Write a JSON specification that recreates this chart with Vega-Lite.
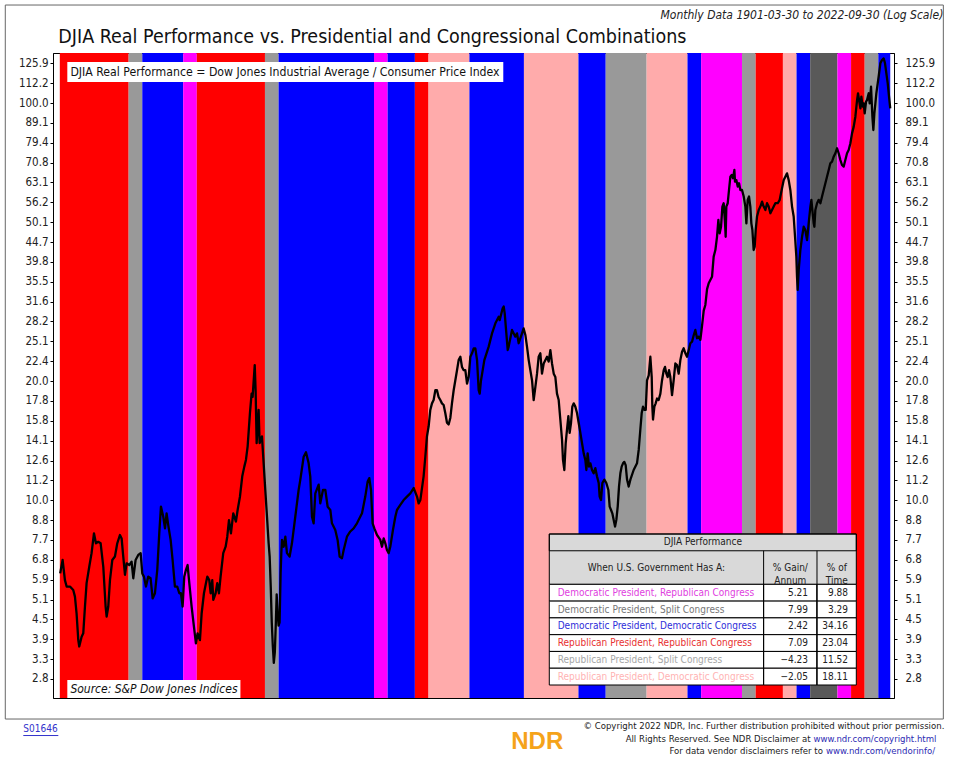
{
  "$schema": "https://vega.github.io/schema/vega-lite/v6.json",
  "width": 841,
  "height": 645,
  "autosize": {"type": "none"},
  "padding": {"left": 53, "top": 53, "right": 62, "bottom": 69},
  "background": "white",
  "config": {
    "view": {"stroke": "black", "strokeWidth": 1},
    "axis": {"labelFont": "DejaVu Sans Condensed", "labelFontSize": 11.5, "labelColor": "#222", "tickColor": "#000", "domainColor": "#000", "grid": false}
  },
  "datasets": {
    "periods": [
      {"start": 1900.9, "end": 1911, "government": "Republican President, Republican Congress"},
      {"start": 1911, "end": 1913, "government": "Republican President, Split Congress"},
      {"start": 1913, "end": 1919, "government": "Democratic President, Democratic Congress"},
      {"start": 1919, "end": 1921, "government": "Democratic President, Republican Congress"},
      {"start": 1921, "end": 1931, "government": "Republican President, Republican Congress"},
      {"start": 1931, "end": 1933, "government": "Republican President, Split Congress"},
      {"start": 1933, "end": 1947, "government": "Democratic President, Democratic Congress"},
      {"start": 1947, "end": 1949, "government": "Democratic President, Republican Congress"},
      {"start": 1949, "end": 1953, "government": "Democratic President, Democratic Congress"},
      {"start": 1953, "end": 1955, "government": "Republican President, Republican Congress"},
      {"start": 1955, "end": 1961, "government": "Republican President, Democratic Congress"},
      {"start": 1961, "end": 1969, "government": "Democratic President, Democratic Congress"},
      {"start": 1969, "end": 1977, "government": "Republican President, Democratic Congress"},
      {"start": 1977, "end": 1981, "government": "Democratic President, Democratic Congress"},
      {"start": 1981, "end": 1987, "government": "Republican President, Split Congress"},
      {"start": 1987, "end": 1993, "government": "Republican President, Democratic Congress"},
      {"start": 1993, "end": 1995, "government": "Democratic President, Democratic Congress"},
      {"start": 1995, "end": 2001, "government": "Democratic President, Republican Congress"},
      {"start": 2001, "end": 2003, "government": "Republican President, Split Congress"},
      {"start": 2003, "end": 2007, "government": "Republican President, Republican Congress"},
      {"start": 2007, "end": 2009, "government": "Republican President, Democratic Congress"},
      {"start": 2009, "end": 2011, "government": "Democratic President, Democratic Congress"},
      {"start": 2011, "end": 2015, "government": "Democratic President, Split Congress"},
      {"start": 2015, "end": 2017, "government": "Democratic President, Republican Congress"},
      {"start": 2017, "end": 2019, "government": "Republican President, Republican Congress"},
      {"start": 2019, "end": 2021, "government": "Republican President, Split Congress"},
      {"start": 2021, "end": 2022.75, "government": "Democratic President, Democratic Congress"}
    ],
    "table": [
      {"government": "Democratic President, Republican Congress", "gain": 5.21, "time": 9.88},
      {"government": "Democratic President, Split Congress", "gain": 7.99, "time": 3.29},
      {"government": "Democratic President, Democratic Congress", "gain": 2.42, "time": 34.16},
      {"government": "Republican President, Republican Congress", "gain": 7.09, "time": 23.04},
      {"government": "Republican President, Split Congress", "gain": -4.23, "time": 11.52},
      {"government": "Republican President, Democratic Congress", "gain": -2.05, "time": 18.11}
    ],
    "djia": [
      {"year": 1900.95, "value": 6.17}, {"year": 1901.31, "value": 6.79}, {"year": 1901.65, "value": 5.88}, {"year": 1901.9, "value": 5.61},
      {"year": 1902.39, "value": 5.61}, {"year": 1902.87, "value": 5.47}, {"year": 1903.12, "value": 5.21}, {"year": 1903.36, "value": 4.67},
      {"year": 1903.61, "value": 3.87}, {"year": 1903.75, "value": 3.67}, {"year": 1904.1, "value": 3.97}, {"year": 1904.34, "value": 4.07},
      {"year": 1904.59, "value": 4.88}, {"year": 1904.83, "value": 5.75}, {"year": 1905.22, "value": 6.47}, {"year": 1905.56, "value": 7.09},
      {"year": 1905.91, "value": 8.05}, {"year": 1906.2, "value": 7.54}, {"year": 1906.54, "value": 7.61}, {"year": 1906.89, "value": 7.54},
      {"year": 1907.28, "value": 6.47}, {"year": 1907.62, "value": 4.88}, {"year": 1907.77, "value": 4.58}, {"year": 1908.01, "value": 4.88},
      {"year": 1908.26, "value": 5.88}, {"year": 1908.6, "value": 6.79}, {"year": 1908.99, "value": 6.94}, {"year": 1909.33, "value": 7.54},
      {"year": 1909.72, "value": 7.96}, {"year": 1909.97, "value": 7.78}, {"year": 1910.21, "value": 6.94}, {"year": 1910.46, "value": 6.11},
      {"year": 1910.7, "value": 6.63}, {"year": 1911.09, "value": 6.55}, {"year": 1911.43, "value": 6.71}, {"year": 1911.68, "value": 5.96},
      {"year": 1912.02, "value": 6.79}, {"year": 1912.41, "value": 7.01}, {"year": 1912.76, "value": 7.09}, {"year": 1913.0, "value": 6.17},
      {"year": 1913.24, "value": 6.03}, {"year": 1913.54, "value": 5.61}, {"year": 1913.88, "value": 6.03}, {"year": 1914.22, "value": 5.96},
      {"year": 1914.52, "value": 5.14}, {"year": 1914.86, "value": 5.34}, {"year": 1915.2, "value": 6.33}, {"year": 1915.49, "value": 8.05},
      {"year": 1915.74, "value": 9.6}, {"year": 1916.08, "value": 8.99}, {"year": 1916.33, "value": 8.32}, {"year": 1916.57, "value": 9.19},
      {"year": 1916.81, "value": 8.51}, {"year": 1917.16, "value": 7.7}, {"year": 1917.45, "value": 6.79}, {"year": 1917.79, "value": 5.61},
      {"year": 1918.13, "value": 5.61}, {"year": 1918.43, "value": 5.34}, {"year": 1918.67, "value": 5.34}, {"year": 1918.92, "value": 4.88},
      {"year": 1919.16, "value": 6.03}, {"year": 1919.41, "value": 6.33}, {"year": 1919.65, "value": 6.55}, {"year": 1919.9, "value": 5.75},
      {"year": 1920.24, "value": 4.88}, {"year": 1920.58, "value": 4.27}, {"year": 1920.87, "value": 3.77}, {"year": 1921.12, "value": 4.07},
      {"year": 1921.46, "value": 3.87}, {"year": 1921.71, "value": 4.67}, {"year": 1922.05, "value": 5.34}, {"year": 1922.34, "value": 5.75},
      {"year": 1922.54, "value": 6.03}, {"year": 1922.83, "value": 5.88}, {"year": 1923.03, "value": 5.34}, {"year": 1923.27, "value": 5.88},
      {"year": 1923.42, "value": 5.09}, {"year": 1923.76, "value": 5.34}, {"year": 1924.0, "value": 5.75}, {"year": 1924.25, "value": 5.34},
      {"year": 1924.49, "value": 6.03}, {"year": 1924.88, "value": 7.09}, {"year": 1925.23, "value": 7.38}, {"year": 1925.47, "value": 7.87},
      {"year": 1925.72, "value": 8.8}, {"year": 1926.01, "value": 8.05}, {"year": 1926.35, "value": 9.19}, {"year": 1926.74, "value": 8.71},
      {"year": 1926.99, "value": 9.39}, {"year": 1927.33, "value": 10.2}, {"year": 1927.67, "value": 11.47}, {"year": 1927.97, "value": 12.15},
      {"year": 1928.21, "value": 12.64}, {"year": 1928.46, "value": 13.65}, {"year": 1928.8, "value": 16.56}, {"year": 1929.04, "value": 18.58},
      {"year": 1929.19, "value": 18.22}, {"year": 1929.5, "value": 21.9}, {"year": 1929.63, "value": 18.95}, {"year": 1929.78, "value": 13.9},
      {"year": 1930.07, "value": 16.87}, {"year": 1930.22, "value": 13.91}, {"year": 1930.56, "value": 14.45}, {"year": 1930.81, "value": 12.39},
      {"year": 1931.05, "value": 10.6}, {"year": 1931.3, "value": 8.99}, {"year": 1931.54, "value": 7.54}, {"year": 1931.69, "value": 6.94},
      {"year": 1931.85, "value": 5.6}, {"year": 1932.0, "value": 4.4}, {"year": 1932.15, "value": 3.7}, {"year": 1932.3, "value": 3.2},
      {"year": 1932.45, "value": 3.5}, {"year": 1932.6, "value": 4.4}, {"year": 1932.72, "value": 5.3}, {"year": 1932.85, "value": 4.7},
      {"year": 1933.0, "value": 4.3}, {"year": 1933.15, "value": 4.4}, {"year": 1933.3, "value": 6.2}, {"year": 1933.4, "value": 7.09},
      {"year": 1933.5, "value": 7.7}, {"year": 1933.74, "value": 7.38}, {"year": 1933.99, "value": 7.87}, {"year": 1934.23, "value": 7.09},
      {"year": 1934.62, "value": 6.94}, {"year": 1934.96, "value": 7.54}, {"year": 1935.45, "value": 8.99}, {"year": 1935.94, "value": 10.6},
      {"year": 1936.19, "value": 11.25}, {"year": 1936.68, "value": 12.87}, {"year": 1937.02, "value": 13.2}, {"year": 1937.41, "value": 12.39},
      {"year": 1937.65, "value": 11.47}, {"year": 1937.9, "value": 8.99}, {"year": 1938.14, "value": 8.61}, {"year": 1938.39, "value": 10.4},
      {"year": 1938.88, "value": 10.93}, {"year": 1939.12, "value": 9.8}, {"year": 1939.51, "value": 10.6}, {"year": 1939.86, "value": 10.6},
      {"year": 1940.2, "value": 9.59}, {"year": 1940.59, "value": 9.39}, {"year": 1940.83, "value": 8.61}, {"year": 1941.32, "value": 8.23},
      {"year": 1941.66, "value": 7.7}, {"year": 1941.96, "value": 6.94}, {"year": 1942.3, "value": 6.86}, {"year": 1942.55, "value": 7.23},
      {"year": 1943.03, "value": 7.87}, {"year": 1943.52, "value": 8.15}, {"year": 1944.01, "value": 8.32}, {"year": 1944.5, "value": 8.61},
      {"year": 1945.24, "value": 9.19}, {"year": 1945.72, "value": 10.21}, {"year": 1946.07, "value": 11.13}, {"year": 1946.31, "value": 11.35},
      {"year": 1946.56, "value": 10.6}, {"year": 1946.8, "value": 8.61}, {"year": 1947.05, "value": 8.32}, {"year": 1947.44, "value": 7.96},
      {"year": 1947.93, "value": 7.7}, {"year": 1948.17, "value": 7.38}, {"year": 1948.42, "value": 7.78}, {"year": 1948.66, "value": 7.54},
      {"year": 1948.9, "value": 7.23}, {"year": 1949.15, "value": 7.09}, {"year": 1949.39, "value": 7.38}, {"year": 1949.78, "value": 8.23},
      {"year": 1950.13, "value": 8.99}, {"year": 1950.37, "value": 9.39}, {"year": 1950.86, "value": 9.7}, {"year": 1951.35, "value": 10.01},
      {"year": 1951.84, "value": 10.21}, {"year": 1952.33, "value": 10.4}, {"year": 1952.82, "value": 10.72}, {"year": 1953.31, "value": 10.21},
      {"year": 1953.55, "value": 9.8}, {"year": 1953.8, "value": 10.01}, {"year": 1954.28, "value": 11.47}, {"year": 1954.53, "value": 12.87},
      {"year": 1954.77, "value": 14.45}, {"year": 1955.02, "value": 15.31}, {"year": 1955.26, "value": 16.87}, {"year": 1955.51, "value": 17.54},
      {"year": 1955.75, "value": 17.89}, {"year": 1956.0, "value": 18.95}, {"year": 1956.24, "value": 18.95}, {"year": 1956.48, "value": 18.22},
      {"year": 1956.73, "value": 17.89}, {"year": 1956.97, "value": 17.54}, {"year": 1957.22, "value": 17.37}, {"year": 1957.46, "value": 16.55},
      {"year": 1957.71, "value": 15.62}, {"year": 1957.95, "value": 15.47}, {"year": 1958.2, "value": 16.07}, {"year": 1958.44, "value": 17.54},
      {"year": 1958.69, "value": 18.95}, {"year": 1959.18, "value": 21.28}, {"year": 1959.42, "value": 22.54}, {"year": 1959.67, "value": 22.98},
      {"year": 1959.91, "value": 21.68}, {"year": 1960.16, "value": 21.28}, {"year": 1960.4, "value": 21.28}, {"year": 1960.65, "value": 19.7},
      {"year": 1960.89, "value": 20.46}, {"year": 1961.14, "value": 22.98}, {"year": 1961.38, "value": 23.44}, {"year": 1961.63, "value": 24.12},
      {"year": 1961.87, "value": 24.12}, {"year": 1962.12, "value": 22.54}, {"year": 1962.36, "value": 18.95}, {"year": 1962.51, "value": 18.58},
      {"year": 1962.7, "value": 20.07}, {"year": 1963.19, "value": 22.54}, {"year": 1963.83, "value": 24.35}, {"year": 1964.32, "value": 26.3},
      {"year": 1964.81, "value": 27.9}, {"year": 1965.3, "value": 28.97}, {"year": 1965.44, "value": 28.41}, {"year": 1965.88, "value": 30.41},
      {"year": 1966.03, "value": 30.73}, {"year": 1966.18, "value": 29.55}, {"year": 1966.42, "value": 26.3}, {"year": 1966.62, "value": 23.88},
      {"year": 1966.76, "value": 24.35}, {"year": 1967.25, "value": 26.83}, {"year": 1967.74, "value": 25.8}, {"year": 1967.99, "value": 26.3},
      {"year": 1968.23, "value": 24.83}, {"year": 1968.72, "value": 26.3}, {"year": 1968.96, "value": 27.07}, {"year": 1969.21, "value": 26.06},
      {"year": 1969.45, "value": 24.35}, {"year": 1969.7, "value": 22.54}, {"year": 1969.94, "value": 21.28}, {"year": 1970.19, "value": 20.07},
      {"year": 1970.43, "value": 17.89}, {"year": 1970.68, "value": 19.32}, {"year": 1970.92, "value": 20.86}, {"year": 1971.16, "value": 22.98},
      {"year": 1971.41, "value": 23.44}, {"year": 1971.65, "value": 20.86}, {"year": 1971.9, "value": 22.11}, {"year": 1972.39, "value": 22.98},
      {"year": 1972.63, "value": 22.34}, {"year": 1972.88, "value": 23.88}, {"year": 1973.12, "value": 22.11}, {"year": 1973.37, "value": 20.86},
      {"year": 1973.61, "value": 20.46}, {"year": 1973.85, "value": 18.58}, {"year": 1974.1, "value": 17.89}, {"year": 1974.34, "value": 15.92},
      {"year": 1974.59, "value": 14.17}, {"year": 1974.73, "value": 12.64}, {"year": 1974.93, "value": 11.91}, {"year": 1975.13, "value": 13.91},
      {"year": 1975.32, "value": 15.03}, {"year": 1975.52, "value": 16.24}, {"year": 1975.71, "value": 14.74}, {"year": 1975.91, "value": 15.62},
      {"year": 1976.1, "value": 17.2}, {"year": 1976.3, "value": 17.54}, {"year": 1976.54, "value": 17.2}, {"year": 1976.79, "value": 16.55},
      {"year": 1977.03, "value": 15.62}, {"year": 1977.28, "value": 14.74}, {"year": 1977.52, "value": 13.91}, {"year": 1977.77, "value": 13.12},
      {"year": 1978.01, "value": 12.64}, {"year": 1978.16, "value": 11.91}, {"year": 1978.35, "value": 13.12}, {"year": 1978.55, "value": 12.15},
      {"year": 1978.75, "value": 12.39}, {"year": 1978.99, "value": 11.91}, {"year": 1979.23, "value": 11.68}, {"year": 1979.48, "value": 12.04},
      {"year": 1979.72, "value": 11.47}, {"year": 1979.97, "value": 11.03}, {"year": 1980.11, "value": 10.21}, {"year": 1980.31, "value": 10.01},
      {"year": 1980.51, "value": 11.03}, {"year": 1980.8, "value": 11.25}, {"year": 1981.09, "value": 11.03}, {"year": 1981.39, "value": 10.6},
      {"year": 1981.58, "value": 9.6}, {"year": 1981.78, "value": 9.39}, {"year": 1981.97, "value": 9.19}, {"year": 1982.17, "value": 8.81},
      {"year": 1982.37, "value": 8.42}, {"year": 1982.56, "value": 8.81}, {"year": 1982.76, "value": 9.6}, {"year": 1982.95, "value": 10.81},
      {"year": 1983.15, "value": 11.68}, {"year": 1983.34, "value": 12.15}, {"year": 1983.54, "value": 12.39}, {"year": 1983.73, "value": 12.5},
      {"year": 1983.93, "value": 12.26}, {"year": 1984.13, "value": 11.25}, {"year": 1984.37, "value": 10.81}, {"year": 1984.62, "value": 11.25},
      {"year": 1985.1, "value": 11.91}, {"year": 1985.59, "value": 12.39}, {"year": 1985.84, "value": 13.38}, {"year": 1986.08, "value": 15.03},
      {"year": 1986.28, "value": 16.55}, {"year": 1986.47, "value": 17.2}, {"year": 1986.67, "value": 16.87}, {"year": 1986.87, "value": 16.87},
      {"year": 1987.06, "value": 20.07}, {"year": 1987.31, "value": 20.66}, {"year": 1987.55, "value": 22.98}, {"year": 1987.75, "value": 20.46},
      {"year": 1987.84, "value": 17.2}, {"year": 1987.94, "value": 15.92}, {"year": 1988.14, "value": 17.2}, {"year": 1988.33, "value": 17.54},
      {"year": 1988.53, "value": 18.05}, {"year": 1988.77, "value": 17.89}, {"year": 1989.02, "value": 18.58}, {"year": 1989.26, "value": 20.07},
      {"year": 1989.51, "value": 21.28}, {"year": 1989.7, "value": 21.68}, {"year": 1989.9, "value": 20.86}, {"year": 1990.09, "value": 20.46},
      {"year": 1990.29, "value": 21.28}, {"year": 1990.48, "value": 20.46}, {"year": 1990.73, "value": 18.41}, {"year": 1990.97, "value": 20.07},
      {"year": 1991.22, "value": 22.11}, {"year": 1991.46, "value": 21.9}, {"year": 1991.71, "value": 20.86}, {"year": 1991.95, "value": 22.54},
      {"year": 1992.2, "value": 23.66}, {"year": 1992.44, "value": 24.12}, {"year": 1992.69, "value": 23.44}, {"year": 1992.93, "value": 22.98},
      {"year": 1993.18, "value": 23.88}, {"year": 1993.42, "value": 24.83}, {"year": 1993.67, "value": 25.06}, {"year": 1993.91, "value": 26.0},
      {"year": 1994.15, "value": 26.83}, {"year": 1994.4, "value": 25.56}, {"year": 1994.64, "value": 25.8}, {"year": 1994.89, "value": 25.32},
      {"year": 1995.13, "value": 27.5}, {"year": 1995.38, "value": 30.0}, {"year": 1995.62, "value": 31.0}, {"year": 1995.87, "value": 34.0},
      {"year": 1996.11, "value": 35.2}, {"year": 1996.35, "value": 35.85}, {"year": 1996.6, "value": 36.56}, {"year": 1996.84, "value": 41.05},
      {"year": 1997.09, "value": 42.66}, {"year": 1997.33, "value": 46.07}, {"year": 1997.53, "value": 50.75}, {"year": 1997.72, "value": 46.99},
      {"year": 1997.92, "value": 48.81}, {"year": 1998.12, "value": 54.83}, {"year": 1998.31, "value": 55.91}, {"year": 1998.51, "value": 49.77},
      {"year": 1998.6, "value": 46.07}, {"year": 1998.7, "value": 54.83}, {"year": 1998.9, "value": 55.91}, {"year": 1999.09, "value": 60.39},
      {"year": 1999.29, "value": 65.24}, {"year": 1999.49, "value": 65.92}, {"year": 1999.68, "value": 64.65}, {"year": 1999.88, "value": 67.85},
      {"year": 1999.97, "value": 63.39}, {"year": 2000.17, "value": 63.97}, {"year": 2000.37, "value": 61.59}, {"year": 2000.56, "value": 62.81},
      {"year": 2000.76, "value": 60.39}, {"year": 2001.0, "value": 60.39}, {"year": 2001.25, "value": 58.12}, {"year": 2001.49, "value": 54.83},
      {"year": 2001.64, "value": 49.77}, {"year": 2001.83, "value": 57.02}, {"year": 2002.03, "value": 58.12}, {"year": 2002.22, "value": 54.83},
      {"year": 2002.37, "value": 49.77}, {"year": 2002.52, "value": 47.91}, {"year": 2002.71, "value": 42.66}, {"year": 2002.86, "value": 43.5},
      {"year": 2003.01, "value": 47.91}, {"year": 2003.2, "value": 51.76}, {"year": 2003.45, "value": 53.76}, {"year": 2003.69, "value": 54.83},
      {"year": 2003.94, "value": 56.43}, {"year": 2004.18, "value": 54.83}, {"year": 2004.43, "value": 53.76}, {"year": 2004.67, "value": 55.91},
      {"year": 2004.91, "value": 54.83}, {"year": 2005.16, "value": 52.76}, {"year": 2005.4, "value": 53.76}, {"year": 2005.65, "value": 54.83},
      {"year": 2005.89, "value": 55.91}, {"year": 2006.24, "value": 55.91}, {"year": 2006.53, "value": 57.02}, {"year": 2006.72, "value": 59.23},
      {"year": 2006.92, "value": 61.59}, {"year": 2007.12, "value": 63.97}, {"year": 2007.36, "value": 65.24}, {"year": 2007.6, "value": 66.53},
      {"year": 2007.85, "value": 63.97}, {"year": 2008.09, "value": 60.39}, {"year": 2008.34, "value": 54.83}, {"year": 2008.58, "value": 51.76},
      {"year": 2008.78, "value": 46.07}, {"year": 2008.97, "value": 41.05}, {"year": 2009.07, "value": 36.56}, {"year": 2009.17, "value": 33.85},
      {"year": 2009.32, "value": 37.98}, {"year": 2009.56, "value": 42.66}, {"year": 2009.81, "value": 46.07}, {"year": 2010.05, "value": 48.81},
      {"year": 2010.29, "value": 47.91}, {"year": 2010.54, "value": 45.19}, {"year": 2010.78, "value": 49.77}, {"year": 2011.03, "value": 54.83},
      {"year": 2011.18, "value": 57.02}, {"year": 2011.32, "value": 53.76}, {"year": 2011.52, "value": 49.77}, {"year": 2011.62, "value": 48.81},
      {"year": 2011.76, "value": 53.76}, {"year": 2012.01, "value": 55.91}, {"year": 2012.25, "value": 57.02}, {"year": 2012.5, "value": 55.91},
      {"year": 2012.74, "value": 58.12}, {"year": 2012.98, "value": 60.39}, {"year": 2013.23, "value": 62.81}, {"year": 2013.47, "value": 65.24},
      {"year": 2013.72, "value": 67.85}, {"year": 2013.96, "value": 70.51}, {"year": 2014.21, "value": 71.21}, {"year": 2014.45, "value": 73.28},
      {"year": 2014.7, "value": 74.73}, {"year": 2014.94, "value": 76.91}, {"year": 2015.18, "value": 74.73}, {"year": 2015.43, "value": 71.87},
      {"year": 2015.67, "value": 69.82}, {"year": 2015.92, "value": 69.18}, {"year": 2016.16, "value": 71.87}, {"year": 2016.41, "value": 74.73},
      {"year": 2016.65, "value": 76.17}, {"year": 2016.9, "value": 79.15}, {"year": 2017.14, "value": 83.85}, {"year": 2017.39, "value": 87.2},
      {"year": 2017.63, "value": 92.36}, {"year": 2017.88, "value": 101.7}, {"year": 2018.02, "value": 105.8}, {"year": 2018.17, "value": 101.7},
      {"year": 2018.37, "value": 96.94}, {"year": 2018.51, "value": 103.8}, {"year": 2018.71, "value": 97.95}, {"year": 2018.85, "value": 99.77},
      {"year": 2019.0, "value": 94.19}, {"year": 2019.2, "value": 100.8}, {"year": 2019.34, "value": 101.7}, {"year": 2019.59, "value": 105.8},
      {"year": 2019.73, "value": 99.77}, {"year": 2019.93, "value": 109.9}, {"year": 2020.13, "value": 92.36}, {"year": 2020.27, "value": 85.5},
      {"year": 2020.42, "value": 94.19}, {"year": 2020.57, "value": 99.77}, {"year": 2020.71, "value": 105.8}, {"year": 2020.91, "value": 112.1},
      {"year": 2021.05, "value": 116.6}, {"year": 2021.3, "value": 125.9}, {"year": 2021.54, "value": 128.4}, {"year": 2021.79, "value": 129.6},
      {"year": 2021.98, "value": 125.9}, {"year": 2022.18, "value": 118.8}, {"year": 2022.38, "value": 112.1}, {"year": 2022.57, "value": 103.8},
      {"year": 2022.75, "value": 96.94}
    ]
  },
  "layer": [
    {
      "layer": [
        {
          "data": {"name": "periods"},
          "mark": {"type": "rect"},
          "encoding": {
            "x": {"field": "start", "type": "quantitative", "axis": null},
            "x2": {"field": "end"},
            "fill": {
              "field": "government", "type": "nominal", "legend": null,
              "scale": {
                "domain": ["Democratic President, Republican Congress", "Democratic President, Split Congress", "Democratic President, Democratic Congress", "Republican President, Republican Congress", "Republican President, Split Congress", "Republican President, Democratic Congress"],
                "range": ["#ff00ff", "#595959", "#0000ff", "#ff0000", "#999999", "#ffabab"]
              }
            }
          }
        },
        {
          "data": {"values": [{}]},
          "mark": {"type": "rect", "fill": "white"},
          "encoding": {
            "x": {"datum": 1902.0, "type": "quantitative", "axis": null},
            "x2": {"datum": 1965.97},
            "y": {
              "datum": 126.9, "type": "quantitative",
              "axis": {"orient": "right", "title": null, "values": [2.8, 3.3, 3.9, 4.5, 5.1, 5.9, 6.8, 7.7, 8.8, 10, 11.2, 12.6, 14.1, 15.8, 17.8, 20, 22.4, 25.1, 28.2, 31.6, 35.5, 39.8, 44.7, 50.1, 56.2, 63.1, 70.8, 79.4, 89.1, 100, 112.2, 125.9], "format": ".1f", "tickSize": 3, "labelPadding": 8, "labelOverlap": false}
            },
            "y2": {"datum": 112.94}
          }
        },
        {
          "data": {"values": [{}]},
          "mark": {"type": "text", "align": "left", "baseline": "middle", "font": "DejaVu Sans Condensed", "fontSize": 12.2, "fill": "#111"},
          "encoding": {
            "x": {"datum": 1902.45, "type": "quantitative", "axis": null},
            "y": {"datum": 119.7, "type": "quantitative", "axis": null},
            "text": {"value": "DJIA Real Performance = Dow Jones Industrial Average / Consumer Price Index"}
          }
        },
        {
          "data": {"values": [{}]},
          "mark": {"type": "rect", "fill": "white"},
          "encoding": {
            "x": {"datum": 1902.0, "type": "quantitative", "axis": null},
            "x2": {"datum": 1927.4},
            "y": {"datum": 2.776, "type": "quantitative", "axis": null},
            "y2": {"datum": 2.393}
          }
        },
        {
          "data": {"values": [{}]},
          "mark": {"type": "text", "align": "left", "baseline": "middle", "font": "DejaVu Sans Condensed", "fontSize": 12, "fontStyle": "italic", "fill": "#111"},
          "encoding": {
            "x": {"datum": 1902.45, "type": "quantitative", "axis": null},
            "y": {"datum": 2.578, "type": "quantitative", "axis": null},
            "text": {"value": "Source:   S&P Dow Jones Indices"}
          }
        },
        {
          "data": {"name": "djia"},
          "mark": {"type": "line", "color": "black", "strokeWidth": 2.3, "strokeJoin": "round"},
          "encoding": {
            "x": {
              "field": "year", "type": "quantitative",
              "scale": {"domain": [1899.9, 2023.3], "nice": false, "zero": false},
              "axis": {"title": null, "orient": "bottom", "values": [1900, 1901, 1902, 1903, 1904, 1905, 1906, 1907, 1908, 1909, 1910, 1911, 1912, 1913, 1914, 1915, 1916, 1917, 1918, 1919, 1920, 1921, 1922, 1923, 1924, 1925, 1926, 1927, 1928, 1929, 1930, 1931, 1932, 1933, 1934, 1935, 1936, 1937, 1938, 1939, 1940, 1941, 1942, 1943, 1944, 1945, 1946, 1947, 1948, 1949, 1950, 1951, 1952, 1953, 1954, 1955, 1956, 1957, 1958, 1959, 1960, 1961, 1962, 1963, 1964, 1965, 1966, 1967, 1968, 1969, 1970, 1971, 1972, 1973, 1974, 1975, 1976, 1977, 1978, 1979, 1980, 1981, 1982, 1983, 1984, 1985, 1986, 1987, 1988, 1989, 1990, 1991, 1992, 1993, 1994, 1995, 1996, 1997, 1998, 1999, 2000, 2001, 2002, 2003, 2004, 2005, 2006, 2007, 2008, 2009, 2010, 2011, 2012, 2013, 2014, 2015, 2016, 2017, 2018, 2019, 2020, 2021, 2022, 2023], "format": "d", "labelExpr": "datum.value % 10 === 0 ? datum.label : ''", "tickSize": 3, "labelPadding": 4, "labelOverlap": false, "labelFlush": false}
            },
            "y": {
              "field": "value", "type": "quantitative",
              "scale": {
                "type": "log", "nice": false, "zero": false,
                "domain": [2.393, 2.8, 3.3, 3.9, 4.5, 5.1, 5.9, 6.8, 7.7, 8.8, 10, 11.2, 12.6, 14.1, 15.8, 17.8, 20, 22.4, 25.1, 28.2, 31.6, 35.5, 39.8, 44.7, 50.1, 56.2, 63.1, 70.8, 79.4, 89.1, 100, 112.2, 125.9, 133.9],
                "range": [645, 625.96, 606.1, 586.24, 566.38, 546.52, 526.66, 506.8, 486.94, 467.08, 447.22, 427.36, 407.5, 387.64, 367.78, 347.92, 328.06, 308.2, 288.34, 268.48, 248.62, 228.76, 208.9, 189.04, 169.18, 149.32, 129.46, 109.6, 89.74, 69.88, 50.02, 30.16, 10.3, 0]
              },
              "axis": {"orient": "left", "title": null, "values": [2.8, 3.3, 3.9, 4.5, 5.1, 5.9, 6.8, 7.7, 8.8, 10, 11.2, 12.6, 14.1, 15.8, 17.8, 20, 22.4, 25.1, 28.2, 31.6, 35.5, 39.8, 44.7, 50.1, 56.2, 63.1, 70.8, 79.4, 89.1, 100, 112.2, 125.9], "format": ".1f", "tickSize": 3, "labelPadding": 2, "labelOverlap": false}
            }
          }
        },
        {
          "data": {"values": [{}]},
          "mark": {"type": "text", "align": "left", "baseline": "alphabetic", "font": "DejaVu Sans Condensed", "fontSize": 19.5, "fill": "#111"},
          "encoding": {
            "x": {"datum": 1900.68, "type": "quantitative", "axis": null},
            "y": {"datum": 142.2, "type": "quantitative", "axis": null},
            "text": {"value": "DJIA Real Performance vs. Presidential and Congressional Combinations"}
          }
        },
        {
          "data": {"values": [{}]},
          "mark": {"type": "text", "align": "right", "baseline": "middle", "font": "DejaVu Sans Condensed", "fontSize": 12, "fontStyle": "italic", "fill": "#222"},
          "encoding": {
            "x": {"datum": 2030.54, "type": "quantitative", "axis": null},
            "y": {"datum": 168.1, "type": "quantitative", "axis": null},
            "text": {"value": "Monthly Data 1901-03-30 to 2022-09-30 (Log Scale)"}
          }
        },
        {
          "data": {"values": [{}]},
          "mark": {"type": "rect", "fillOpacity": 0, "stroke": "#666", "strokeWidth": 1},
          "encoding": {
            "x": {"datum": 1892.9, "type": "quantitative", "axis": null},
            "x2": {"datum": 2030.54},
            "y": {"datum": 178.4, "type": "quantitative", "axis": null},
            "y2": {"datum": 2.012}
          }
        },
        {
          "data": {"values": [{}]},
          "mark": {"type": "text", "align": "right", "baseline": "middle", "font": "DejaVu Sans Condensed", "fontSize": 9.5, "fill": "#222"},
          "encoding": {
            "x": {"datum": 2030.69, "type": "quantitative", "axis": null},
            "y": {"datum": 1.899, "type": "quantitative", "axis": null},
            "text": {"value": "© Copyright 2022 NDR, Inc. Further distribution prohibited without prior permission."}
          }
        },
        {
          "data": {"values": [{}]},
          "mark": {"type": "text", "align": "right", "baseline": "middle", "font": "DejaVu Sans Condensed", "fontSize": 9.5, "fill": "#222"},
          "encoding": {
            "x": {"datum": 2011.06, "type": "quantitative", "axis": null},
            "y": {"datum": 1.713, "type": "quantitative", "axis": null},
            "text": {"value": "All Rights Reserved. See NDR Disclaimer at"}
          }
        },
        {
          "data": {"values": [{}]},
          "mark": {"type": "text", "align": "left", "baseline": "middle", "font": "DejaVu Sans Condensed", "fontSize": 9.5, "fill": "#2b2bb3"},
          "encoding": {
            "x": {"datum": 2011.5, "type": "quantitative", "axis": null},
            "y": {"datum": 1.713, "type": "quantitative", "axis": null},
            "text": {"value": "www.ndr.com/copyright.html"}
          }
        },
        {
          "data": {"values": [{}]},
          "mark": {"type": "text", "align": "right", "baseline": "middle", "font": "DejaVu Sans Condensed", "fontSize": 9.5, "fill": "#222"},
          "encoding": {
            "x": {"datum": 2012.87, "type": "quantitative", "axis": null},
            "y": {"datum": 1.545, "type": "quantitative", "axis": null},
            "text": {"value": "For data vendor disclaimers refer to"}
          }
        },
        {
          "data": {"values": [{}]},
          "mark": {"type": "text", "align": "left", "baseline": "middle", "font": "DejaVu Sans Condensed", "fontSize": 9.5, "fill": "#2b2bb3"},
          "encoding": {
            "x": {"datum": 2013.34, "type": "quantitative", "axis": null},
            "y": {"datum": 1.545, "type": "quantitative", "axis": null},
            "text": {"value": "www.ndr.com/vendorinfo/"}
          }
        },
        {
          "data": {"values": [{}]},
          "mark": {"type": "text", "align": "left", "baseline": "middle", "font": "DejaVu Sans Condensed", "fontSize": 10, "fill": "#3333cc"},
          "encoding": {
            "x": {"datum": 1895.54, "type": "quantitative", "axis": null},
            "y": {"datum": 1.853, "type": "quantitative", "axis": null},
            "text": {"value": "S01646"}
          }
        },
        {
          "data": {"values": [{}]},
          "mark": {"type": "rule", "stroke": "#3333cc", "strokeWidth": 1},
          "encoding": {
            "x": {"datum": 1895.54, "type": "quantitative", "axis": null},
            "x2": {"datum": 1900.68},
            "y": {"datum": 1.756, "type": "quantitative", "axis": null}
          }
        },
        {
          "data": {"values": [{}]},
          "mark": {"type": "text", "align": "center", "baseline": "middle", "font": "Liberation Sans", "fontSize": 24, "fontWeight": "bold", "fill": "#f5a31a"},
          "encoding": {
            "x": {"datum": 1970.96, "type": "quantitative", "axis": null},
            "y": {"datum": 1.664, "type": "quantitative", "axis": null},
            "text": {"value": "NDR"}
          }
        }
      ],
      "resolve": {"axis": {"y": "independent"}}
    },
    {
      "layer": [
        {
          "data": {"values": [{}]},
          "mark": {"type": "rect", "fill": "#d9d9d9", "stroke": "black", "strokeWidth": 1},
          "encoding": {
            "x": {"datum": 1972.72, "type": "quantitative", "axis": null},
            "x2": {"datum": 2017.77},
            "y": {
              "datum": "h1", "bandPosition": 0, "type": "nominal", "axis": null,
              "scale": {
                "type": "band", "paddingInner": 0, "paddingOuter": 0, "range": [481, 632],
                "domain": ["h1", "h2a", "h2b", "Democratic President, Republican Congress", "Democratic President, Split Congress", "Democratic President, Democratic Congress", "Republican President, Republican Congress", "Republican President, Split Congress", "Republican President, Democratic Congress"]
              }
            },
            "y2": {"datum": "h2b", "bandPosition": 1}
          }
        },
        {
          "data": {"values": [{}]},
          "mark": {"type": "rect", "fillOpacity": 0, "stroke": "black", "strokeWidth": 1},
          "encoding": {
            "x": {"datum": 1972.72, "type": "quantitative", "axis": null},
            "x2": {"datum": 2017.77},
            "y": {"datum": "h1", "type": "nominal", "axis": null}
          }
        },
        {
          "data": {"name": "table"},
          "mark": {"type": "rect", "fill": "white", "stroke": "black", "strokeWidth": 1},
          "encoding": {
            "x": {"datum": 1972.72, "type": "quantitative", "axis": null},
            "x2": {"datum": 2004.17},
            "y": {"field": "government", "type": "nominal", "axis": null}
          }
        },
        {
          "data": {"name": "table"},
          "mark": {"type": "rect", "fill": "white", "stroke": "black", "strokeWidth": 1},
          "encoding": {
            "x": {"datum": 2004.17, "type": "quantitative", "axis": null},
            "x2": {"datum": 2012.0},
            "y": {"field": "government", "type": "nominal", "axis": null}
          }
        },
        {
          "data": {"name": "table"},
          "mark": {"type": "rect", "fill": "white", "stroke": "black", "strokeWidth": 1},
          "encoding": {
            "x": {"datum": 2012.0, "type": "quantitative", "axis": null},
            "x2": {"datum": 2017.77},
            "y": {"field": "government", "type": "nominal", "axis": null}
          }
        },
        {
          "data": {"values": [{}]},
          "mark": {"type": "rule", "stroke": "black", "strokeWidth": 1},
          "encoding": {
            "x": {"datum": 2004.17, "type": "quantitative", "axis": null},
            "y": {"datum": "h2a", "bandPosition": 0, "type": "nominal", "axis": null},
            "y2": {"datum": "Republican President, Democratic Congress", "bandPosition": 1}
          }
        },
        {
          "data": {"values": [{}]},
          "mark": {"type": "rule", "stroke": "black", "strokeWidth": 1},
          "encoding": {
            "x": {"datum": 2012.0, "type": "quantitative", "axis": null},
            "y": {"datum": "h2a", "bandPosition": 0, "type": "nominal", "axis": null},
            "y2": {"datum": "Republican President, Democratic Congress", "bandPosition": 1}
          }
        },
        {
          "data": {"values": [{}]},
          "mark": {"type": "text", "align": "center", "baseline": "middle", "font": "DejaVu Sans Condensed", "fontSize": 10, "fill": "#222"},
          "encoding": {
            "x": {"datum": 1995.25, "type": "quantitative", "axis": null},
            "y": {"datum": "h1", "type": "nominal", "axis": null},
            "text": {"value": "DJIA Performance"}
          }
        },
        {
          "data": {"values": [{}]},
          "mark": {"type": "text", "align": "center", "baseline": "middle", "font": "DejaVu Sans Condensed", "fontSize": 10, "fill": "#222"},
          "encoding": {
            "x": {"datum": 1988.43, "type": "quantitative", "axis": null},
            "y": {"datum": "h2b", "bandPosition": 0, "type": "nominal", "axis": null},
            "text": {"value": "When U.S. Government Has A:"}
          }
        },
        {
          "data": {"values": [{}]},
          "mark": {"type": "text", "align": "center", "baseline": "middle", "font": "DejaVu Sans Condensed", "fontSize": 10, "fill": "#222", "lineHeight": 13},
          "encoding": {
            "x": {"datum": 2008.09, "type": "quantitative", "axis": null},
            "y": {"datum": "h2b", "bandPosition": 0, "type": "nominal", "axis": null},
            "text": {"value": ["% Gain/", "Annum"]}
          }
        },
        {
          "data": {"values": [{}]},
          "mark": {"type": "text", "align": "center", "baseline": "middle", "font": "DejaVu Sans Condensed", "fontSize": 10, "fill": "#222", "lineHeight": 13},
          "encoding": {
            "x": {"datum": 2014.91, "type": "quantitative", "axis": null},
            "y": {"datum": "h2b", "bandPosition": 0, "type": "nominal", "axis": null},
            "text": {"value": ["% of", "Time"]}
          }
        },
        {
          "data": {"name": "table"},
          "mark": {"type": "text", "align": "left", "baseline": "middle", "font": "DejaVu Sans Condensed", "fontSize": 10},
          "encoding": {
            "x": {"datum": 1973.95, "type": "quantitative", "axis": null},
            "y": {"field": "government", "type": "nominal", "axis": null},
            "text": {"field": "government"},
            "color": {
              "field": "government", "type": "nominal", "legend": null,
              "scale": {
                "domain": ["Democratic President, Republican Congress", "Democratic President, Split Congress", "Democratic President, Democratic Congress", "Republican President, Republican Congress", "Republican President, Split Congress", "Republican President, Democratic Congress"],
                "range": ["#e040e0", "#777777", "#2d2dd9", "#e83030", "#a6a6a6", "#ffb3b3"]
              }
            }
          }
        },
        {
          "data": {"name": "table"},
          "mark": {"type": "text", "align": "right", "baseline": "middle", "font": "DejaVu Sans Condensed", "fontSize": 10, "fill": "#222"},
          "encoding": {
            "x": {"datum": 2010.69, "type": "quantitative", "axis": null},
            "y": {"field": "government", "type": "nominal", "axis": null},
            "text": {"field": "gain", "type": "quantitative", "format": ".2f"}
          }
        },
        {
          "data": {"name": "table"},
          "mark": {"type": "text", "align": "right", "baseline": "middle", "font": "DejaVu Sans Condensed", "fontSize": 10, "fill": "#222"},
          "encoding": {
            "x": {"datum": 2016.55, "type": "quantitative", "axis": null},
            "y": {"field": "government", "type": "nominal", "axis": null},
            "text": {"field": "time", "type": "quantitative", "format": ".2f"}
          }
        }
      ]
    }
  ],
  "resolve": {"scale": {"y": "independent"}}
}
